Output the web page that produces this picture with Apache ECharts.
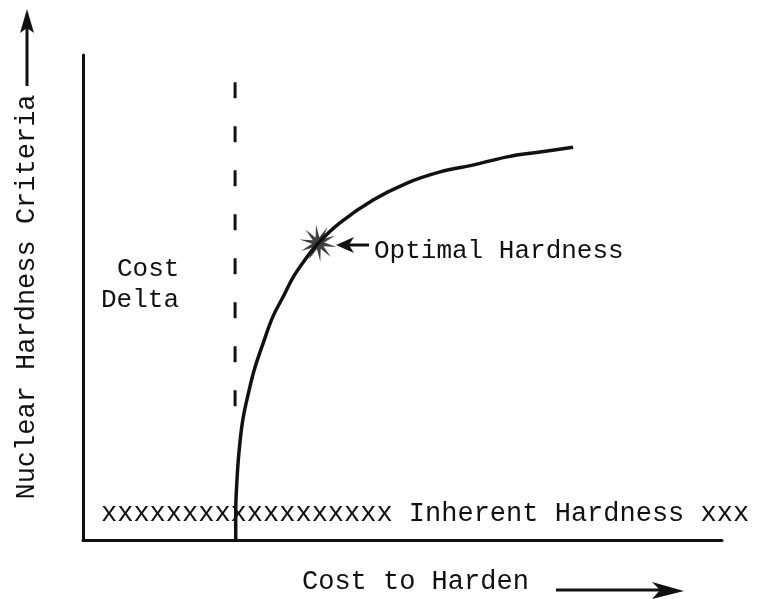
<!DOCTYPE html>
<html>
<head>
<meta charset="utf-8">
<script src="https://cdn.jsdelivr.net/npm/echarts@6/dist/echarts.min.js"></script>
<style>
  html, body { margin: 0; padding: 0; background: #fff; }
  #chart { width: 757px; height: 599px; }
</style>
</head>
<body>
<div id="chart"></div>
<script>
// ---- Data (schematic units 0..100) ----
const costToHarden      = [23.9, 23.9, 24.1, 24.4, 25.0, 26.0, 26.9, 28.2, 29.7, 31.3, 32.9, 34.7, 36.8, 40.2, 45.4, 50.7, 55.9, 61.0, 66.4, 71.5, 76.7];
const hardnessCriteria  = [0.0,  5.6,  12.4, 17.9, 24.7, 30.9, 35.5, 40.6, 46.0, 50.1, 54.2, 57.7, 61.2, 65.4, 70.1, 73.6, 75.9, 77.3, 79.0, 80.0, 81.0];
const costDeltaX        = [23.8, 23.8];
const costDeltaY        = [94.4, 26.2];
const optimalPoint      = [36.8, 61.2];

const xTitle = 'Cost to Harden';
const yTitle = 'Nuclear Hardness Criteria';
const optimalLabel = 'Optimal Hardness';
const deltaLabel = ['Cost', 'Delta'];
const inherentLabel = 'xxxxxxxxxxxxxxxxxx Inherent Hardness xxx';

// ---- Build ----
function starPath(n, rOut, rIn) {
  let d = '';
  for (let k = 0; k < 2 * n; k++) {
    const a = Math.PI * k / n + 0.2;
    const r = (k % 2 === 0) ? rOut : rIn;
    const x = (20 + r * Math.cos(a)).toFixed(2);
    const y = (20 + r * Math.sin(a)).toFixed(2);
    d += (k === 0 ? 'M' : 'L') + x + ',' + y;
  }
  return 'path://' + d + 'Z';
}

const FONT = "'Liberation Mono', 'DejaVu Sans Mono', monospace";
const INK = '#111';

const chart = echarts.init(document.getElementById('chart'), null, { renderer: 'canvas' });

const txt = (text, x, y, size, extra) => Object.assign({
  type: 'text', x: x, y: y, silent: true,
  style: { text: text, font: size + 'px ' + FONT, fill: INK, align: 'left', verticalAlign: 'middle' }
}, extra || {});

chart.setOption({
  backgroundColor: '#fff',
  animation: false,
  grid: { left: 83, right: 35, top: 55, bottom: 59 },
  xAxis: {
    type: 'value', min: 0, max: 100,
    axisLine: { show: true, lineStyle: { color: INK, width: 3 } },
    axisTick: { show: false }, axisLabel: { show: false }, splitLine: { show: false }
  },
  yAxis: {
    type: 'value', min: 0, max: 100,
    axisLine: { show: true, lineStyle: { color: INK, width: 3 } },
    axisTick: { show: false }, axisLabel: { show: false }, splitLine: { show: false }
  },
  series: [
    {
      type: 'line', name: 'Hardness curve',
      data: costToHarden.map((x, i) => [x, hardnessCriteria[i]]),
      smooth: 0.4, showSymbol: false,
      lineStyle: { color: INK, width: 3.5 }
    },
    {
      type: 'line', name: 'Cost Delta',
      data: costDeltaX.map((x, i) => [x, costDeltaY[i]]),
      showSymbol: false,
      lineStyle: { color: INK, width: 3, type: [16, 28] }
    },
    {
      type: 'scatter', name: 'Optimal',
      data: [optimalPoint],
      symbol: starPath(10, 20, 6.5),
      symbolSize: 37,
      itemStyle: { color: INK }
    }
  ],
  graphic: [
    // y-axis title and arrow
    txt(yTitle, 27, 297, 27, { rotation: Math.PI / 2, style: { text: yTitle, font: '27px ' + FONT, fill: INK, align: 'center', verticalAlign: 'middle' } }),
    { type: 'line', shape: { x1: 27, y1: 86, x2: 27, y2: 26 }, style: { stroke: INK, lineWidth: 3 } },
    { type: 'polygon', shape: { points: [[27, 9], [20, 33], [27, 28], [34, 33]] }, style: { fill: INK } },
    // x-axis title and arrow
    txt(xTitle, 302, 582, 27),
    { type: 'line', shape: { x1: 556, y1: 590, x2: 660, y2: 590 }, style: { stroke: INK, lineWidth: 3 } },
    { type: 'polygon', shape: { points: [[684, 591], [652, 582], [660, 590], [652, 599]] }, style: { fill: INK } },
    // annotations
    txt(deltaLabel[0], 117, 269, 26),
    txt(deltaLabel[1], 101, 300, 26),
    txt(optimalLabel, 374, 251, 26),
    { type: 'line', shape: { x1: 346, y1: 245, x2: 369, y2: 245 }, style: { stroke: INK, lineWidth: 3 } },
    { type: 'polygon', shape: { points: [[336, 245], [354, 237], [349, 245], [354, 253]] }, style: { fill: INK } },
    txt(inherentLabel, 101, 514, 27)
  ]
});
</script>
</body>
</html>
